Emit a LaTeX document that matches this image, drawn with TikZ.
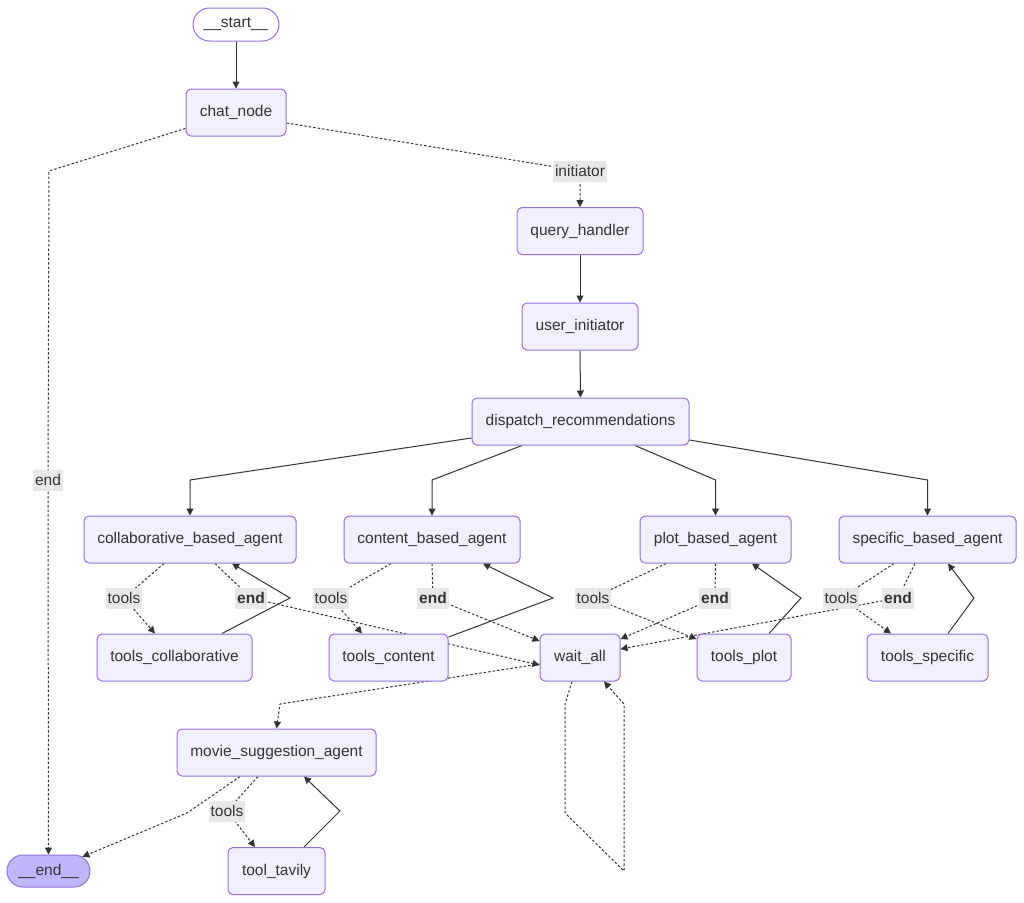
\documentclass[tikz,border=0pt]{standalone}
\usepackage{fontspec}
\setmainfont{Liberation Sans}
\usetikzlibrary{arrows.meta,shapes.misc,backgrounds}
\pgfdeclarelayer{bottom}
\pgfsetlayers{bottom,background,main}
\definecolor{nfill}{HTML}{F2F0FF}
\definecolor{nstroke}{HTML}{9370DB}
\definecolor{endfill}{HTML}{BFB6FC}
\definecolor{lblbg}{HTML}{E8E8E8}
\definecolor{txt}{HTML}{333333}
\definecolor{edge}{HTML}{333333}
\tikzset{
  box/.style={draw=nstroke, fill=nfill, rounded corners=5pt, line width=1pt,
    minimum height=47pt, inner sep=0pt, text=txt, font=\fontsize{15.5}{18}\selectfont},
  term/.style={draw=nstroke, rounded rectangle, line width=1pt, inner sep=0pt,
    text=txt, font=\fontsize{15.5}{18}\selectfont},
  lbl/.style={fill=lblbg, inner xsep=2pt, inner ysep=0pt, minimum height=21pt,
    text=txt, font=\fontsize{15.5}{18}\selectfont},
  lblb/.style={lbl, font=\fontsize{15.5}{18}\selectfont\bfseries},
  solidedge/.style={draw=edge, line width=1pt, -{Triangle[length=7pt,width=7pt]}},
  condedge/.style={solidedge, dash pattern=on 2.5pt off 2pt}
}
\begin{document}
\begin{tikzpicture}[x=1pt,y=-1pt]
\begin{pgfonlayer}{bottom}
\fill[white] (0,0) rectangle (1024,902);
\end{pgfonlayer}
\useasboundingbox (0,0) rectangle (1024,902);

% nodes
\node[term, fill=white, minimum width=86pt, minimum height=33pt] (start) at (236,24.5) {\_\_start\_\_};
\node[box, minimum width=100pt] (chat) at (236,112.5) {chat\_node};
\node[box, minimum width=126pt] (query) at (580,231) {query\_handler};
\node[box, minimum width=116pt] (user) at (580,326.5) {user\_initiator};
\node[box, minimum width=217pt] (disp) at (580.5,421.5) {dispatch\_recommendations};
\node[box, minimum width=212pt] (coll) at (190,539.5) {collaborative\_based\_agent};
\node[box, minimum width=176pt] (cont) at (432,539.5) {content\_based\_agent};
\node[box, minimum width=151pt] (plot) at (715.5,539.5) {plot\_based\_agent};
\node[box, minimum width=177pt] (spec) at (927.5,539.5) {specific\_based\_agent};
\node[box, minimum width=155pt] (tcoll) at (174.5,657.5) {tools\_collaborative};
\node[box, minimum width=119pt] (tcont) at (388.5,657.5) {tools\_content};
\node[box, minimum width=80pt] (wait) at (580,657.5) {wait\_all};
\node[box, minimum width=94pt] (tplot) at (744,657.5) {tools\_plot};
\node[box, minimum width=121pt] (tspec) at (927.5,657.5) {tools\_specific};
\node[box, minimum width=199pt] (movie) at (276.5,752.5) {movie\_suggestion\_agent};
\node[box, minimum width=97pt] (tav) at (276.5,871) {tool\_tavily};
\node[term, fill=endfill, minimum width=83pt, minimum height=32pt] (endn) at (48.5,871) {\_\_end\_\_};

% edge labels
\node[lbl] (linit) at (580,171) {initiator};
\node[lbl] (lend0) at (48,480) {end};
\node[lbl] (lt1) at (124,598) {tools};
\node[lblb] (le1) at (251,598) {end};
\node[lbl] (lt2) at (331,598) {tools};
\node[lblb] (le2) at (433,598) {end};
\node[lbl] (lt3) at (593,598) {tools};
\node[lblb] (le3) at (715,598) {end};
\node[lbl] (lt4) at (841,598) {tools};
\node[lblb] (le4) at (898,598) {end};
\node[lbl] (lt5) at (227,811) {tools};

\begin{scope}[on background layer]
% solid edges
\draw[solidedge] (start) -- (chat);
\draw[solidedge] (query) -- (user);
\draw[solidedge] (user) -- (disp);
\draw[solidedge] ([yshift=-16.5pt]disp.west) -- (190,480) -- (coll.north);
\draw[solidedge] ([xshift=-58.5pt]disp.south) -- (432,480) -- (cont.north);
\draw[solidedge] ([xshift=54.5pt]disp.south) -- (715.5,480) -- (plot.north);
\draw[solidedge] ([yshift=-18.5pt]disp.east) -- (927.5,480) -- (spec.north);
\draw[solidedge] ([xshift=47.5pt]tcoll.north) -- (290,598) -- ([xshift=42pt]coll.south);
\draw[solidedge] ([yshift=20.5pt]tcont.east) -- (553,598) -- ([xshift=51pt]cont.south);
\draw[solidedge] ([xshift=25pt]tplot.north) -- (801,598) -- ([xshift=36.5pt]plot.south);
\draw[solidedge] ([xshift=20.5pt]tspec.north) -- (974,598) -- ([xshift=20.5pt]spec.south);
\draw[solidedge] ([xshift=27.5pt]tav.north) -- (340,811) -- ([xshift=27.5pt]movie.south);

% conditional edges
\draw[condedge] ([yshift=-16pt]chat.west) -- (49,171) -- (lend0.center) -- (endn.north);
\draw[condedge] ([yshift=-10.5pt]chat.east) -- (linit.center) -- (query.north);
\draw[condedge] ([xshift=-26pt]coll.south) -- (lt1.center) -- ([xshift=-19.5pt]tcoll.north);
\draw[condedge] ([xshift=25pt]coll.south) -- (le1.center) -- ([yshift=-7.5pt]wait.west);
\draw[condedge] ([xshift=-41pt]cont.south) -- (lt2.center) -- ([xshift=-26.5pt]tcont.north);
\draw[condedge] (cont.south) -- (le2.center) -- ([yshift=16.5pt]wait.west);
\draw[condedge] ([xshift=-49.5pt]plot.south) -- (lt3.center) -- ([yshift=18.5pt]tplot.west);
\draw[condedge] (plot.south) -- (le3.center) -- ([yshift=18.5pt]wait.east);
\draw[condedge] ([xshift=-33.5pt]spec.south) -- (lt4.center) -- ([xshift=-36.5pt]tspec.north);
\draw[condedge] ([xshift=-12.5pt]spec.south) -- (le4.center) -- ([yshift=8.5pt]wait.east);
\draw[condedge] ([yshift=-6.5pt]wait.west) -- (280,704) -- (movie.north);
\draw[condedge] ([xshift=-8pt]wait.south) -- (565,704) -- (565,813) -- (624,871) -- (624,704) -- ([xshift=24pt]wait.south);
\draw[condedge] ([xshift=-36.5pt]movie.south) -- (187,813) -- (endn);
\draw[condedge] ([xshift=-18.5pt]movie.south) -- (lt5.center) -- ([xshift=-21.5pt]tav.north);
\end{scope}
\end{tikzpicture}
\end{document}
